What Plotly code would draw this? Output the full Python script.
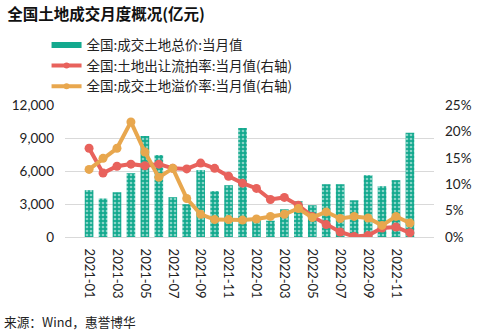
import plotly.graph_objects as go

months = ["2021-01","2021-02","2021-03","2021-04","2021-05","2021-06","2021-07","2021-08",
          "2021-09","2021-10","2021-11","2021-12","2022-01","2022-02","2022-03","2022-04",
          "2022-05","2022-06","2022-07","2022-08","2022-09","2022-10","2022-11","2022-12"]
total_price = [4260, 3500, 4070, 5800, 9180, 7450, 3620, 2980, 6080, 4170, 4710, 9910,
               1520, 1480, 2520, 3250, 2890, 4800, 4800, 3340, 5620, 4620, 5170, 9480]
fail_rate = [16.8, 12.1, 13.4, 13.8, 13.5, 13.8, 13.0, 12.9, 14.0, 13.0, 11.5, 10.2,
             9.2, 7.1, 7.5, 6.0, 3.9, 2.35, 0.95, 0.1, 0.3, 1.7, 1.9, 0.8]
premium_rate = [12.8, 14.9, 16.8, 21.8, 16.1, 11.3, 13.0, 7.3, 4.3, 3.3, 3.3, 3.2,
                3.4, 3.9, 4.3, 5.4, 3.7, 4.75, 3.5, 3.9, 3.6, 2.2, 3.9, 2.65]
tick_labels = months[::2]
names = ["全国:成交土地总价:当月值", "全国:土地出让流拍率:当月值(右轴)", "全国:成交土地溢价率:当月值(右轴)"]

teal = "#13a98e"
red = "#e8625c"
orange = "#e8a74e"
font_num = "Lato, 'Noto Sans CJK SC', sans-serif"
font_cjk = "'Noto Sans CJK SC', sans-serif"
pattern = dict(shape=".", fgcolor="white", bgcolor=teal, size=4, solidity=0.35)

fig = go.Figure()
fig.add_trace(go.Bar(
    x=months, y=total_price, name=names[0],
    marker=dict(color=teal, line=dict(width=0), pattern=pattern),
    yaxis="y", showlegend=False))
fig.add_trace(go.Scatter(
    x=months, y=fail_rate, name=names[1], mode="lines+markers",
    line=dict(color=red, width=4), marker=dict(color=red, size=9), yaxis="y2",
    showlegend=False))
fig.add_trace(go.Scatter(
    x=months, y=premium_rate, name=names[2], mode="lines+markers",
    line=dict(color=orange, width=4), marker=dict(color=orange, size=9), yaxis="y2",
    showlegend=False))
# legend entries
fig.add_trace(go.Scatter(
    x=[None], y=[None], name=names[0], mode="lines",
    line=dict(color=teal, width=6), yaxis="y", showlegend=True))
for nm, col in [(names[1], red), (names[2], orange)]:
    fig.add_trace(go.Scatter(
        x=[None], y=[None], name=nm, mode="lines+markers",
        line=dict(color=col, width=4), marker=dict(color=col, size=6), yaxis="y2",
        showlegend=True))

fig.update_layout(
    width=484, height=335,
    margin=dict(l=64, r=48, t=105, b=98),
    paper_bgcolor="white", plot_bgcolor="white",
    bargap=0.38,
    showlegend=True,
    legend=dict(x=-0.05, y=1.57, xanchor="left", yanchor="top",
                font=dict(family=font_cjk, size=13.5, color="#222"),
                tracegroupgap=0, bgcolor="rgba(0,0,0,0)"),
    title=dict(text="<b>全国土地成交月度概况(亿元)</b>", x=0.015, xanchor="left",
               y=0.972, yanchor="top", font=dict(family=font_cjk, size=15.5, color="#111")),
    xaxis=dict(type="category", tickmode="array", tickvals=tick_labels, ticktext=tick_labels,
               tickangle=90, tickfont=dict(family=font_num, size=13, color="#222"),
               showgrid=False, showline=True, linecolor="#d9d9d9", ticks="",
               ticklabelstandoff=8),
    yaxis=dict(range=[0, 12000], tickvals=[0, 3000, 6000, 9000, 12000],
               ticktext=["0", "3,000", "6,000", "9,000", "12,000"],
               tickfont=dict(family=font_num, size=13.5, color="#222"),
               showgrid=True, gridcolor="#d9d9d9", gridwidth=1, zeroline=False,
               ticks="", ticklabelstandoff=10),
    yaxis2=dict(range=[0, 25], tickvals=[0, 5, 10, 15, 20, 25],
                ticktext=["0%", "5%", "10%", "15%", "20%", "25%"],
                overlaying="y", side="right", showgrid=False, zeroline=False,
                tickfont=dict(family=font_num, size=13.5, color="#222"),
                ticklabelstandoff=10),
    annotations=[dict(text="来源：Wind，惠誉博华", xref="paper", yref="paper",
                      x=-0.172, y=-0.64, xanchor="left", yanchor="middle", showarrow=False,
                      font=dict(family=font_cjk, size=12.7, color="#222"))],
)

fig.write_html("out.html")
